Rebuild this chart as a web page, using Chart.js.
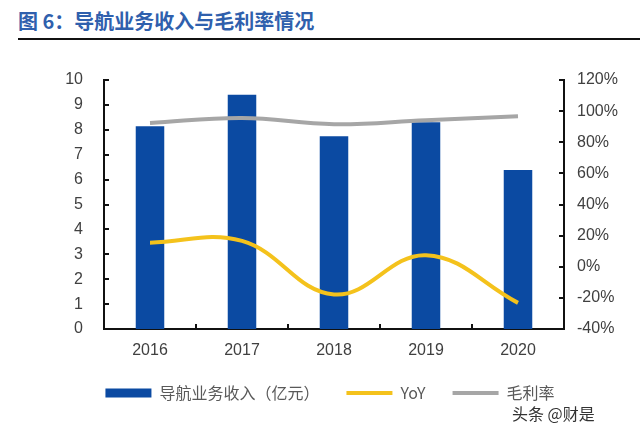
<!DOCTYPE html>
<html>
<head>
<meta charset="utf-8">
<script src="https://cdn.jsdelivr.net/npm/chart.js@4"></script>
<style>
  html, body { margin: 0; padding: 0; background: #fff; }
  #wrap { position: relative; width: 640px; height: 435px; overflow: hidden; }
  #title { position: absolute; left: 18px; top: 7px; font-family: "Noto Sans CJK SC", sans-serif; font-weight: bold; font-size: 20px; color: #2f60ad; line-height: 28px; white-space: nowrap; }
  #rule { position: absolute; left: 18px; top: 38px; width: 622px; height: 2px; background: #111; }
  #mark { position: absolute; left: 512px; top: 401px; font-family: "Noto Sans CJK SC", sans-serif; font-size: 16px; color: #333; white-space: nowrap; }
  canvas { position: absolute; left: 0; top: 0; }
</style>
</head>
<body>
<div id="wrap">
  <div id="title">图 6：导航业务收入与毛利率情况</div>
  <div id="rule"></div>
  <canvas id="c" width="640" height="435"></canvas>
  <div id="mark">头条 @财是</div>
</div>
<script>
const categories = ['2016', '2017', '2018', '2019', '2020'];
const revenue = [8.14, 9.41, 7.74, 8.30, 6.39];
const yoy = [15.5, 16.6, -17.8, 7.4, -23.2];
const grossMargin = [92.4, 95.6, 91.6, 94.2, 96.7];
const leftTicks = [0, 1, 2, 3, 4, 5, 6, 7, 8, 9, 10];
const rightTicks = [-40, -20, 0, 20, 40, 60, 80, 100, 120];
const seriesNames = ['导航业务收入（亿元）', 'YoY', '毛利率'];

const innerTicks = {
  id: 'innerTicks',
  afterLayout(chart) {
    if (chart.legend) { chart.legend.left += 20; }
  },
  afterDraw(chart) {
    const ctx = chart.ctx;
    const a = chart.chartArea;
    const y = chart.scales.y, y1 = chart.scales.y1, x = chart.scales.x;
    ctx.save();
    ctx.strokeStyle = '#111';
    ctx.lineWidth = 2;
    ctx.beginPath();
    y.ticks.forEach(t => { const p = Math.round(y.getPixelForValue(t.value)); ctx.moveTo(a.left, p); ctx.lineTo(a.left + 5, p); });
    y1.ticks.forEach(t => { const p = Math.round(y1.getPixelForValue(t.value)); ctx.moveTo(a.right - 5, p); ctx.lineTo(a.right, p); });
    for (let i = 1; i < categories.length; i++) {
      const p = Math.round((x.getPixelForValue(i - 1) + x.getPixelForValue(i)) / 2);
      ctx.moveTo(p, a.bottom); ctx.lineTo(p, a.bottom - 5);
    }
    ctx.stroke();
    ctx.restore();
  }
};

new Chart(document.getElementById('c'), {
  data: {
    labels: categories,
    datasets: [
      { type: 'line', label: seriesNames[1], data: yoy, yAxisID: 'y1', borderColor: '#f4c21c', backgroundColor: '#f4c21c', borderWidth: 4, pointRadius: 0, tension: 0.4, order: 1 },
      { type: 'line', label: seriesNames[2], data: grossMargin, yAxisID: 'y1', borderColor: '#a6a6a6', backgroundColor: '#a6a6a6', borderWidth: 4, pointRadius: 0, tension: 0.4, order: 2 },
      { type: 'bar', label: seriesNames[0], data: revenue, yAxisID: 'y', backgroundColor: '#0b4aa2', borderWidth: 0, barPercentage: 0.31, categoryPercentage: 1.0, order: 3 }
    ]
  },
  options: {
    responsive: false,
    animation: false,
    layout: { padding: { top: 80, left: 0, right: 0, bottom: 24 } },
    plugins: {
      tooltip: { enabled: false },
      legend: {
        position: 'bottom',
        labels: {
          sort: (a, b) => seriesNames.indexOf(a.text) - seriesNames.indexOf(b.text),
          usePointStyle: true,
          pointStyleWidth: 46,
          boxHeight: 9,
          padding: 27,
          color: '#595959',
          font: { family: '"Noto Sans CJK SC", sans-serif', size: 16 },
          generateLabels(chart) {
            return chart.data.datasets.map((ds, i) => ({
              text: ds.label,
              fillStyle: ds.type === 'bar' ? ds.backgroundColor : ds.borderColor,
              strokeStyle: ds.type === 'bar' ? ds.backgroundColor : ds.borderColor,
              lineWidth: ds.type === 'bar' ? 0 : 4,
              pointStyle: ds.type === 'bar' ? 'rect' : 'line',
              fontColor: '#595959',
              datasetIndex: i,
              hidden: false
            }));
          }
        }
      }
    },
    scales: {
      x: {
        grid: { display: false, drawTicks: false },
        border: { display: true, color: '#111', width: 2 },
        ticks: { color: '#404040', font: { family: '"Liberation Sans", Arial, sans-serif', size: 16 }, padding: 12 },
        afterFit(s) { s.height = 29; }
      },
      y: {
        position: 'left',
        min: 0, max: 10,
        afterBuildTicks(s) { s.ticks = leftTicks.map(v => ({ value: v })); },
        grid: { display: false, drawTicks: false },
        border: { display: true, color: '#111', width: 2 },
        ticks: { color: '#404040', font: { family: '"Liberation Sans", Arial, sans-serif', size: 16 }, padding: 21 },
        afterFit(s) { s.width = 104; }
      },
      y1: {
        position: 'right',
        min: -40, max: 120,
        afterBuildTicks(s) { s.ticks = rightTicks.map(v => ({ value: v })); },
        grid: { display: false, drawTicks: false },
        border: { display: true, color: '#111', width: 2 },
        ticks: { color: '#404040', font: { family: '"Liberation Sans", Arial, sans-serif', size: 16 }, padding: 13, callback: v => v + '%' },
        afterFit(s) { s.width = 76; }
      }
    }
  },
  plugins: [innerTicks]
});
</script>
</body>
</html>
